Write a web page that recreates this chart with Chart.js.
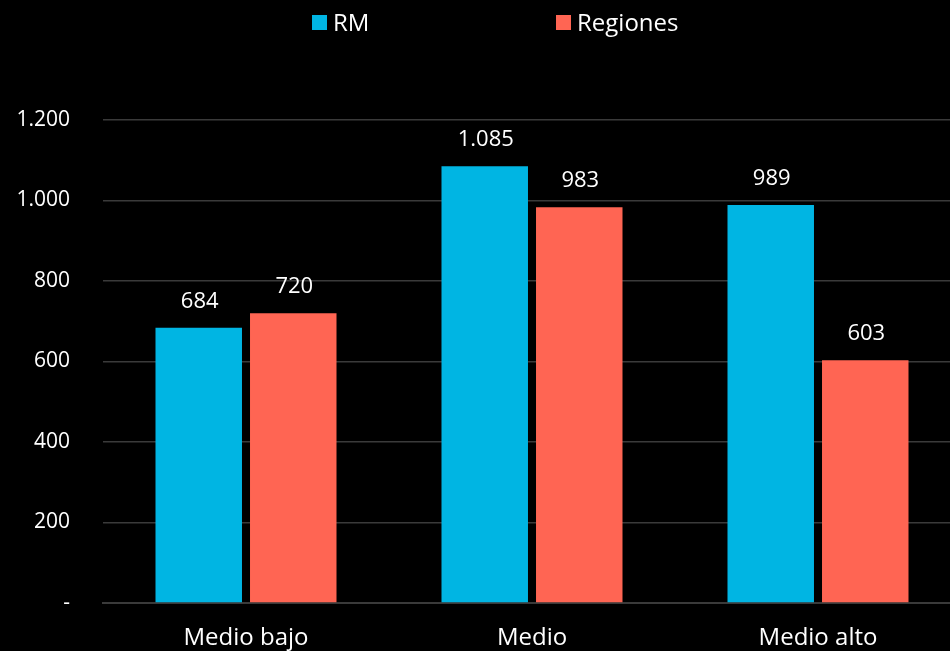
<!DOCTYPE html>
<html>
<head>
<meta charset="utf-8">
<script src="https://cdn.jsdelivr.net/npm/chart.js@4"></script>
<style>
  html, body { margin: 0; padding: 0; background: #000; overflow: hidden; }
  #wrap { width: 950px; height: 651px; position: relative; overflow: hidden; }
</style>
</head>
<body>
<div id="wrap"><canvas id="c" width="961" height="651"></canvas></div>
<script>
const categories = ['Medio bajo', 'Medio', 'Medio alto'];
const seriesNames = ['RM', 'Regiones'];
const rmValues = [684, 1085, 989];
const regionesValues = [720, 983, 603];
const yTicks = [0, 200, 400, 600, 800, 1000, 1200];

const colors = ['#00B5E3', '#FF6553'];

function fmt(v) {
  if (v === 0) return '-';
  return String(v).replace(/\B(?=(\d{3})+(?!\d))/g, '.');
}

const valueLabels = {
  id: 'valueLabels',
  afterDatasetsDraw(chart) {
    const ctx = chart.ctx;
    ctx.save();
    ctx.font = '22px "Open Sans"';
    ctx.fillStyle = '#ffffff';
    ctx.textAlign = 'center';
    ctx.textBaseline = 'alphabetic';
    chart.data.datasets.forEach((ds, i) => {
      const meta = chart.getDatasetMeta(i);
      meta.data.forEach((bar, j) => {
        ctx.fillText(fmt(ds.data[j]), bar.x + 1, bar.y - 20);
      });
    });
    ctx.restore();
  }
};

const topLegend = {
  id: 'topLegend',
  afterDraw(chart) {
    const ctx = chart.ctx;
    ctx.save();
    ctx.font = '24px "Open Sans"';
    ctx.fillStyle = '#ffffff';
    ctx.textBaseline = 'alphabetic';
    const starts = [312, 556];
    chart.data.datasets.forEach((ds, i) => {
      const x = starts[i];
      ctx.fillStyle = ds.backgroundColor;
      ctx.fillRect(x, 15, 15, 15);
      ctx.fillStyle = '#ffffff';
      ctx.fillText(ds.label, x + 21, 31);
    });
    ctx.restore();
  }
};

new Chart(document.getElementById('c'), {
  type: 'bar',
  data: {
    labels: categories,
    datasets: [
      { label: seriesNames[0], data: rmValues, backgroundColor: colors[0] },
      { label: seriesNames[1], data: regionesValues, backgroundColor: colors[1] }
    ]
  },
  options: {
    responsive: false,
    animation: false,
    devicePixelRatio: 1,
    layout: { padding: { top: 120, right: 0, bottom: 0, left: 0 } },
    datasets: { bar: { barPercentage: 0.915, categoryPercentage: 0.661 } },
    plugins: {
      legend: { display: false },
      tooltip: { enabled: false }
    },
    scales: {
      x: {
        grid: { display: false, drawTicks: false },
        border: { display: true, color: '#3a3a3a', width: 2 },
        ticks: { color: '#ffffff', font: { family: '"Open Sans"', size: 24 }, padding: 21 },
        afterFit(scale) { scale.height = 48; }
      },
      y: {
        min: 0,
        max: 1200,
        afterBuildTicks(scale) { scale.ticks = yTicks.map(v => ({ value: v })); },
        grid: { color: '#3a3a3a', lineWidth: 1.5, drawTicks: false },
        border: { display: false },
        ticks: {
          color: '#ffffff',
          font: { family: '"Open Sans"', size: 21 },
          padding: 33,
          callback: (v) => fmt(v)
        },
        afterFit(scale) { scale.width = 103; }
      }
    }
  },
  plugins: [valueLabels, topLegend]
});
</script>
</body>
</html>
